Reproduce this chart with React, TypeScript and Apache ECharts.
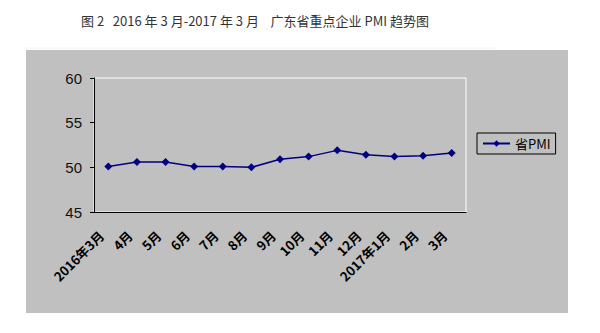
import React, { useEffect, useRef } from "react";
import * as echarts from "echarts";

const categories = ["2016年3月", "4月", "5月", "6月", "7月", "8月", "9月", "10月", "11月", "12月", "2017年1月", "2月", "3月"];
const pmiValues = [50.1, 50.6, 50.6, 50.1, 50.1, 50.0, 50.9, 51.2, 51.9, 51.4, 51.2, 51.3, 51.6];
const yTicks = { min: 45, max: 60, interval: 5 };
const titleText = "图\u00a02\u00a0\u00a0\u00a02016\u00a0年\u00a03\u00a0月-2017\u00a0年\u00a03\u00a0月\u00a0\u00a0\u00a0\u00a0广东省重点企业\u00a0PMI\u00a0趋势图";
const seriesName = "省PMI";

export default function App() {
  const ref = useRef<HTMLDivElement>(null);
  useEffect(() => {
    if (!ref.current) return;
    const chart = echarts.init(ref.current, null, { renderer: "svg" });
    chart.setOption({
      animation: false,
      backgroundColor: "#ffffff",
      graphic: [
        { type: "rect", z: -10, shape: { x: 26, y: 50, width: 542, height: 263 }, style: { fill: "#c0c0c0" } },
        { type: "line", z: -10, shape: { x1: 23, y1: 48, x2: 495, y2: 48 }, style: { stroke: "#f2f2f2", lineWidth: 1 } },
        {
          type: "text",
          x: 255,
          y: 20,
          style: {
            text: titleText,
            font: '13px "Noto Sans CJK SC"',
            fill: "#333333",
            align: "center",
            verticalAlign: "middle",
          },
        },
      ],
      grid: {
        left: 94,
        right: 134,
        top: 78,
        bottom: 121,
        show: true,
        borderColor: "#ffffff",
        borderWidth: 1,
        backgroundColor: "transparent",
      },
      legend: {
        left: 477,
        top: 133,
        orient: "vertical",
        data: [seriesName],
        borderColor: "#000",
        borderWidth: 1,
        backgroundColor: "#c0c0c0",
        padding: [4, 5, 4, 5],
        itemWidth: 27,
        itemHeight: 8,
        itemGap: 0,
        textStyle: { fontSize: 13, color: "#000", fontFamily: '"Noto Sans CJK SC"' },
      },
      xAxis: {
        type: "category",
        data: categories,
        boundaryGap: true,
        axisLine: { lineStyle: { color: "#000", width: 1 } },
        axisTick: { inside: true, length: 5, lineStyle: { color: "#000" } },
        axisLabel: {
          rotate: 45,
          interval: 0,
          margin: 14,
          padding: [0, 10, 0, 0],
          fontSize: 13,
          fontWeight: "bold",
          color: "#000",
          fontFamily: '"Noto Sans CJK SC"',
        },
        splitLine: { show: false },
      },
      yAxis: {
        type: "value",
        min: yTicks.min,
        max: yTicks.max,
        interval: yTicks.interval,
        axisLine: { show: true, lineStyle: { color: "#000", width: 1 } },
        axisTick: { show: true, length: 4, lineStyle: { color: "#000" } },
        axisLabel: { fontSize: 15, color: "#111", margin: 12, fontFamily: '"Liberation Sans"' },
        splitLine: { show: false },
      },
      series: [
        {
          name: seriesName,
          type: "line",
          data: pmiValues,
          symbol: "diamond",
          symbolSize: 8,
          lineStyle: { color: "#000080", width: 1.5 },
          itemStyle: { color: "#000080" },
        },
      ],
    });
    return () => chart.dispose();
  }, []);
  return <div ref={ref} style={{ position: "fixed", left: 0, top: 0, width: 600, height: 333 }} />;
}
